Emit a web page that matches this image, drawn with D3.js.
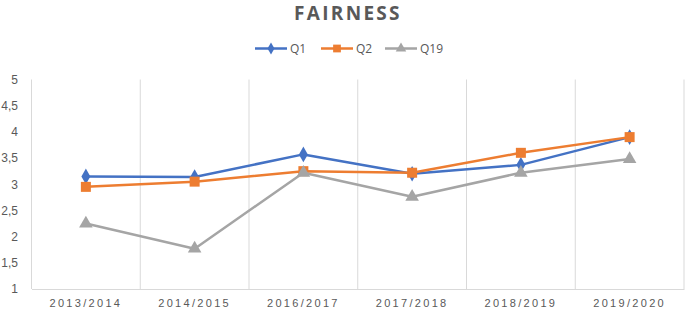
<!DOCTYPE html>
<html>
<head>
<meta charset="utf-8">
<script src="https://cdn.jsdelivr.net/npm/d3@7"></script>
<style>
body { margin: 0; background: #fff; }
svg { display: block; font-family: "Open Sans", "Liberation Sans", sans-serif; }
</style>
</head>
<body>
<div id="chart"></div>
<script>
// DATA -----------------------------------------------------
var categories = ["2013/2014", "2014/2015", "2016/2017", "2017/2018", "2018/2019", "2019/2020"];
var seriesNames = ["Q1", "Q2", "Q19"];
var q1Values = [3.15, 3.14, 3.57, 3.2, 3.37, 3.9];
var q2Values = [2.95, 3.05, 3.25, 3.22, 3.6, 3.9];
var q19Values = [2.25, 1.77, 3.22, 2.76, 3.22, 3.48];
var yTicks = [1, 1.5, 2, 2.5, 3, 3.5, 4, 4.5, 5];
var titleText = "FAIRNESS";

// STRUCTURE ------------------------------------------------
var W = 685, H = 311;
var plot = { left: 31.5, right: 684, top: 79.5, bottom: 289 };
var colors = { Q1: "#4472C4", Q2: "#ED7D31", Q19: "#A5A5A5" };
var textColor = "#595959";

var series = [
  { name: seriesNames[0], values: q1Values, marker: "diamond" },
  { name: seriesNames[1], values: q2Values, marker: "square" },
  { name: seriesNames[2], values: q19Values, marker: "triangle" }
];

var svg = d3.select("#chart").append("svg")
  .attr("width", W)
  .attr("height", H);

var x = d3.scaleBand().domain(categories).range([plot.left, plot.right]);
var y = d3.scaleLinear().domain([1, 5]).range([plot.bottom, plot.top]);

// GRID -----------------------------------------------------
// vertical lines between categories
var bounds = categories.map(function(c) { return x(c); }).concat([plot.right]);
svg.append("g").selectAll("line")
  .data(bounds)
  .enter().append("line")
  .attr("x1", function(d) { return d; })
  .attr("x2", function(d) { return d; })
  .attr("y1", plot.top)
  .attr("y2", plot.bottom)
  .attr("stroke", "#D9D9D9")
  .attr("stroke-width", 1);

// x axis
var xAxis = svg.append("g")
  .attr("transform", "translate(0," + plot.bottom + ")")
  .call(d3.axisBottom(x).tickSize(0).tickPadding(10));
xAxis.select(".domain").attr("stroke", "#D9D9D9");
xAxis.selectAll("text")
  .attr("fill", textColor)
  .style("font-size", "11px")
  .style("letter-spacing", "2.3px");

// y axis (labels only)
var yAxis = svg.append("g")
  .attr("transform", "translate(18,0)")
  .call(d3.axisLeft(y).tickValues(yTicks).tickSize(0).tickPadding(0)
    .tickFormat(function(d) { return d3.format("")(d).replace(".", ","); }));
yAxis.select(".domain").remove();
yAxis.selectAll("text")
  .attr("fill", textColor)
  .style("font-size", "12px");

// LINES ----------------------------------------------------
var line = d3.line()
  .x(function(d, i) { return x(categories[i]) + x.bandwidth() / 2; })
  .y(function(d) { return y(d); });

var symbolTypes = { diamond: d3.symbolDiamond, square: d3.symbolSquare, triangle: d3.symbolTriangle };
var symbolSizes = { diamond: 70, square: 100, triangle: 80 };

series.forEach(function(s) {
  var g = svg.append("g");
  g.append("path")
    .attr("d", line(s.values))
    .attr("fill", "none")
    .attr("stroke", colors[s.name])
    .attr("stroke-width", 2.5)
    .attr("stroke-linejoin", "round");
  g.selectAll("path.marker")
    .data(s.values)
    .enter().append("path")
    .attr("class", "marker")
    .attr("transform", function(d, i) {
      return "translate(" + (x(categories[i]) + x.bandwidth() / 2) + "," + y(d) + ")";
    })
    .attr("d", d3.symbol().type(symbolTypes[s.marker]).size(symbolSizes[s.marker]))
    .attr("fill", colors[s.name]);
});

// LEGEND ---------------------------------------------------
var legendX = [255, 321, 385];
var legend = svg.append("g");
series.forEach(function(s, i) {
  var lg = legend.append("g").attr("transform", "translate(" + legendX[i] + ",48.5)");
  lg.append("line")
    .attr("x1", 0).attr("x2", 32)
    .attr("stroke", colors[s.name])
    .attr("stroke-width", 2.5);
  lg.append("path")
    .attr("transform", "translate(16,0)")
    .attr("d", d3.symbol().type(symbolTypes[s.marker]).size(symbolSizes[s.marker] * 0.6))
    .attr("fill", colors[s.name]);
  lg.append("text")
    .attr("x", 35)
    .attr("dy", "0.35em")
    .attr("fill", textColor)
    .style("font-size", "12px")
    .text(s.name);
});

// TEXT -----------------------------------------------------
svg.append("text")
  .attr("x", 348)
  .attr("y", 20)
  .attr("text-anchor", "middle")
  .attr("fill", textColor)
  .style("font-size", "19px")
  .style("font-weight", "bold")
  .style("letter-spacing", "2.3px")
  .text(titleText);
</script>
</body>
</html>
